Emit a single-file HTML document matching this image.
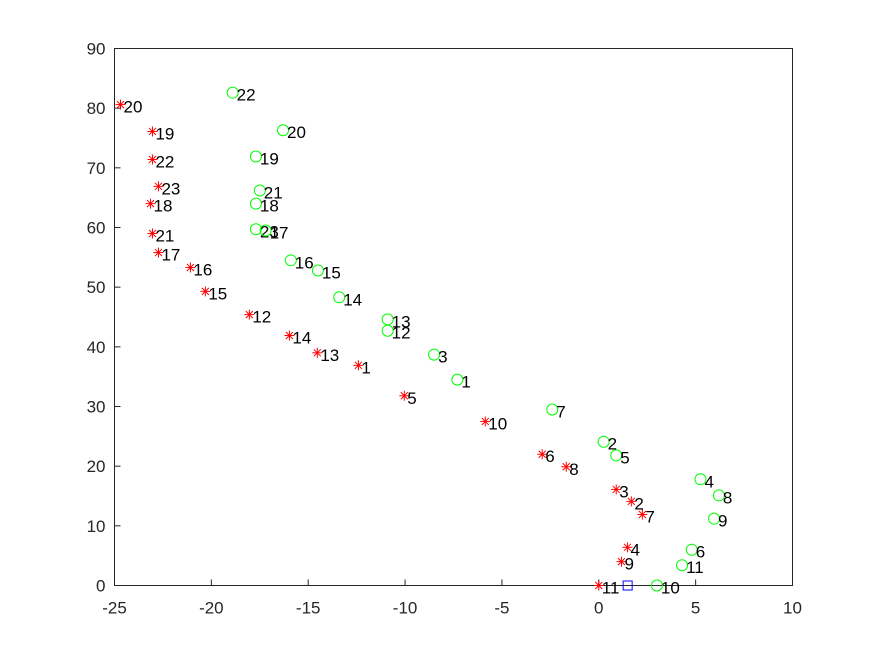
<!DOCTYPE html>
<html><head><meta charset="utf-8"><style>
body{margin:0;background:#fff}
svg{display:block;font-family:"Liberation Sans",Arial,sans-serif}
</style></head><body>
<svg id="chart" width="875" height="656">
<rect x="0" y="0" width="875" height="656" fill="#fff"/>
<rect x="114.5" y="48.5" width="678" height="537" fill="#fff" stroke="#262626" stroke-width="1"/>
<g id="ticks"></g>
<g id="marks"></g>
</svg>
<script>
const xTicks=[-25,-20,-15,-10,-5,0,5,10];
const yTicks=[0,10,20,30,40,50,60,70,80,90];
const redLabels=[20,19,22,23,18,21,17,16,15,12,14,13,1,5,10,6,8,3,2,7,4,9,11];
const redX=[-24.69,-23.04,-23.04,-22.73,-23.14,-23.04,-22.73,-21.08,-20.31,-18.04,-15.97,-14.53,-12.41,-10.04,-5.86,-2.92,-1.68,0.9,1.68,2.25,1.48,1.17,0];
const redY=[80.6,76.1,71.4,66.9,64.0,59.0,55.8,53.3,49.3,45.4,41.9,39.0,36.9,31.8,27.5,22.0,19.9,16.1,14.1,11.9,6.4,4.0,0];
const greenLabels=[22,20,19,21,18,23,17,16,15,14,13,12,3,1,7,2,5,4,8,9,6,11,10];
const greenX=[-18.9,-16.3,-17.7,-17.5,-17.7,-17.7,-17.2,-15.9,-14.5,-13.4,-10.9,-10.9,-8.5,-7.3,-2.4,0.25,0.9,5.25,6.2,5.95,4.8,4.3,3.0];
const greenY=[82.6,76.3,71.9,66.2,64.0,59.7,59.5,54.5,52.8,48.3,44.6,42.7,38.7,34.5,29.5,24.1,21.8,17.8,15.1,11.2,6.0,3.4,0];
const depotX=[1.49];
const depotY=[0];
const NS="http://www.w3.org/2000/svg";
const X0=114.5,X1=792.5,Y0=585.5,Y1=48.5;
const sx=v=>X0+(v+25)/35*(X1-X0);
const sy=v=>Y0-(v/90)*(Y0-Y1);
function mk(tag,attrs,parent){const e=document.createElementNS(NS,tag);for(const k in attrs)e.setAttribute(k,attrs[k]);parent.appendChild(e);return e;}
const tg=document.getElementById('ticks'),mg=document.getElementById('marks');
xTicks.forEach(t=>{
 const l=mk('line',{x1:sx(t),x2:sx(t),y1:Y0,y2:Y0-6,stroke:'#262626'},tg);
 
 
 const tx=mk('text',{x:sx(t),y:Y0+28,'text-anchor':'middle','font-size':'17',fill:'#262626'},tg);
 tx.textContent=t;
 
 
});
yTicks.forEach(t=>{
 const l=mk('line',{x1:X0,x2:X0+6,y1:sy(t),y2:sy(t),stroke:'#262626'},tg);
 
 
 const tx=mk('text',{x:X0-9,y:sy(t)+6,'text-anchor':'end','font-size':'17',fill:'#262626'},tg);
 tx.textContent=t;
 
 
});
greenX.forEach((v,i)=>{
 const c=mk('circle',{cx:sx(v),cy:sy(greenY[i]),r:5.5,fill:'none',stroke:'#00ff00','stroke-width':1},mg);
 
 
 const t=mk('text',{x:sx(v)+4,y:sy(greenY[i])+8,'font-size':'17',fill:'#000'},mg);
 t.textContent=greenLabels[i];
 
 
});
redX.forEach((v,i)=>{
 const cx=sx(v),cy=sy(redY[i]),r=5;
 const g=mk('g',{stroke:'#ff0000','stroke-width':1},mg);
 
 
 mk('line',{x1:cx-r,x2:cx+r,y1:cy,y2:cy},g);
 mk('line',{x1:cx,x2:cx,y1:cy-r,y2:cy+r},g);
 mk('line',{x1:cx-r*0.7,x2:cx+r*0.7,y1:cy-r*0.7,y2:cy+r*0.7},g);
 mk('line',{x1:cx-r*0.7,x2:cx+r*0.7,y1:cy+r*0.7,y2:cy-r*0.7},g);
 const t=mk('text',{x:cx+3,y:cy+8,'font-size':'17',fill:'#000'},mg);
 t.textContent=redLabels[i];
 
 
});
depotX.forEach((v,i)=>{
 const s=mk('rect',{x:sx(v)-4.5,y:sy(depotY[i])-4.5,width:9,height:9,fill:'none',stroke:'#0000ff'},mg);
 
 
});
</script>
</body></html>
